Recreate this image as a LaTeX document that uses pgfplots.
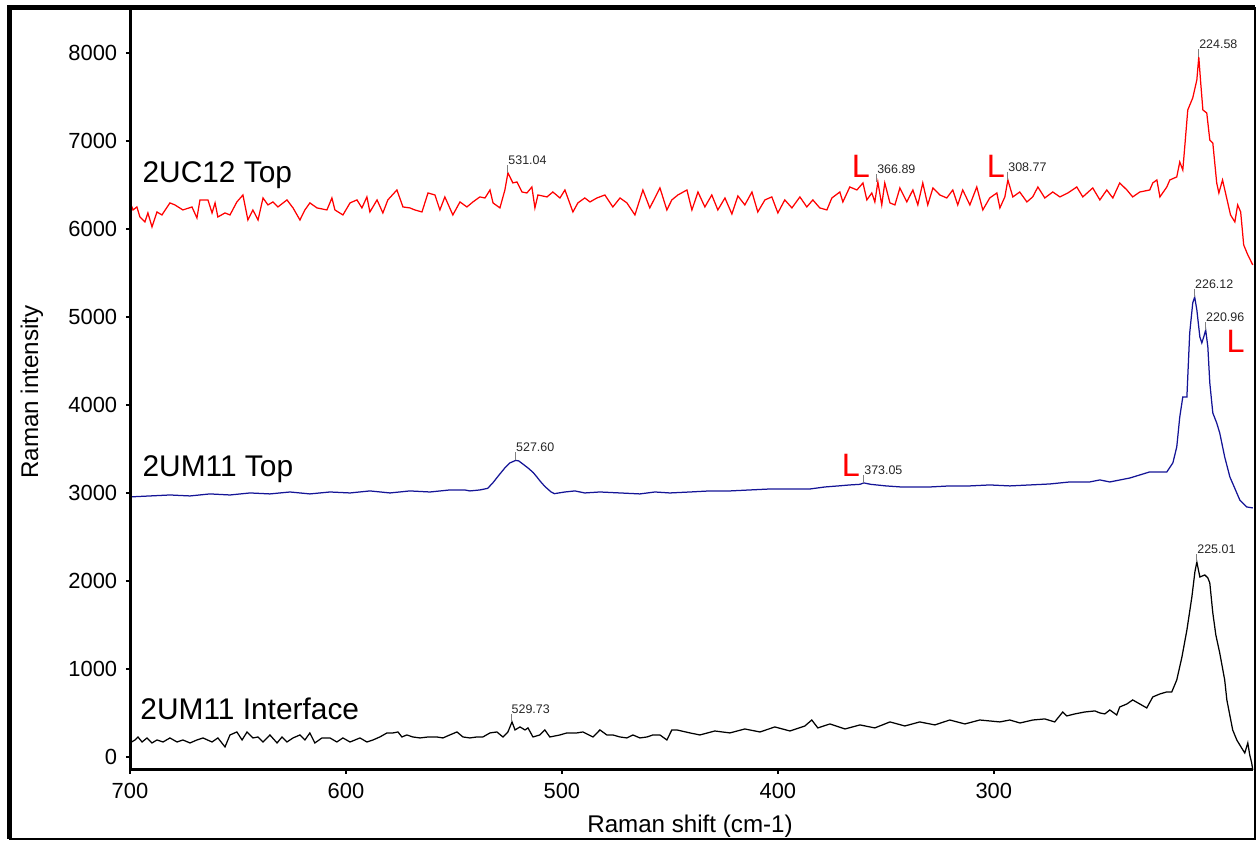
\documentclass[border=0pt]{standalone}
\usepackage{pgfplots}
\pgfplotsset{compat=1.18}
\usepackage{fontspec}
\setmainfont{Liberation Sans}
\definecolor{sred}{RGB}{255,0,0}
\definecolor{sblue}{RGB}{20,20,150}
\newcommand\pk[3]{\draw[gray, line width=0.4bp] (axis cs:#1,#2) -- ++(0pt,3.2bp) node[anchor=south west, inner sep=0pt, text=black!85, font=\fontsize{5}{6}\selectfont] {#3};}
\newcommand\Lm[2]{\node[text=sred, font=\fontsize{13}{14}\selectfont, inner sep=0pt] at (axis cs:#1,#2) {L};}
\begin{document}
\begin{tikzpicture}
\begin{axis}[
 scale only axis, width=449.2bp, height=304.8bp,
 x dir=reverse, xmin=180, xmax=700, ymin=-148, ymax=8511,
 axis line style={draw=none},
 xtick={300,400,500,600,700}, ytick={0,1000,...,8000},
 xtick pos=left, ytick pos=left,
 tick align=outside, major tick length=1.6bp,
 tick style={black, line width=0.6bp},
 /pgf/number format/1000 sep={}, /pgf/number format/assume math mode=true,
 ticklabel style={font=\fontsize{8.8}{10}\selectfont},
 clip=false,
]
\coordinate (BL) at (axis cs:700,-148);
\coordinate (TR) at (axis cs:180,8511);
% 2UC12 Top
\addplot[sred, line width=0.5bp] coordinates {
(700,6307)(698.6,6216)(696.8,6250)(695.4,6136)(693.1,6080)(691.7,6182)(689.8,6023)(687.5,6193)(685.2,6159)(681.5,6296)
(679.2,6273)(675.5,6216)(671.3,6250)(669.0,6125)(667.6,6330)(663.9,6330)(662.0,6182)(660.6,6296)(659.3,6136)(656.0,6182)
(653.7,6159)(650.5,6307)(647.7,6386)(645.4,6102)(643.1,6216)(640.7,6102)(638.4,6352)(636.1,6273)(633.8,6307)(631.5,6250)
(627.3,6330)(624.5,6239)(621.3,6102)(619.0,6216)(616.7,6296)(613.4,6239)(608.8,6216)(606.5,6352)(605.1,6216)(601.4,6159)
(598.1,6296)(594.9,6330)(592.6,6239)(590.3,6364)(588.9,6193)(585.6,6330)(582.9,6182)(580.6,6330)(576.4,6443)(573.6,6250)
(570.4,6239)(568.1,6216)(564.8,6193)(562.0,6409)(558.8,6386)(556.5,6216)(554.2,6364)(550.5,6159)(547.2,6307)(544.0,6250)
(541.2,6307)(538.0,6364)(535.6,6352)(533.3,6443)(531.9,6296)(528.7,6239)(526.4,6443)(525.0,6637)(522.7,6523)(520.8,6534)
(518.5,6420)(516.2,6409)(513.9,6477)(512.5,6239)(511.1,6386)(506.9,6364)(504.2,6420)(500.9,6352)(498.6,6443)(494.9,6193)
(492.6,6296)(489.4,6352)(487.0,6307)(483.8,6352)(480.1,6386)(476.4,6250)(473.1,6352)(469.9,6296)(466.2,6159)(462.5,6443)
(459.3,6239)(454.6,6466)(451.4,6216)(449.1,6330)(446.3,6386)(442.1,6443)(439.8,6216)(437.0,6420)(433.8,6250)(430.6,6386)
(427.8,6216)(424.5,6352)(421.3,6170)(418.5,6375)(415.3,6273)(412.0,6420)(409.3,6193)(406.0,6330)(402.8,6364)(400.0,6182)
(396.8,6330)(393.5,6239)(389.8,6364)(386.6,6250)(383.8,6330)(380.6,6239)(377.3,6216)(375.0,6352)(371.3,6420)(369.9,6307)
(366.7,6477)(363.4,6443)(360.6,6523)(358.8,6330)(356.5,6409)(355.1,6307)(353.7,6534)(351.9,6273)(350.5,6523)(348.1,6296)
(345.8,6273)(343.5,6466)(340.3,6307)(337.5,6443)(335.2,6273)(332.9,6523)(330.6,6273)(328.2,6466)(325.0,6386)(321.8,6352)
(319.0,6443)(316.7,6273)(314.4,6443)(311.1,6273)(307.9,6477)(305.1,6216)(301.9,6352)(298.6,6409)(297.2,6239)(294.9,6364)
(293.5,6557)(291.2,6364)(288.0,6420)(284.7,6307)(282.0,6364)(279.6,6477)(276.4,6352)(272.7,6420)(269.4,6364)(265.7,6409)
(261.6,6477)(258.8,6364)(254.2,6466)(250.9,6330)(247.7,6443)(244.9,6352)(241.7,6523)(238.4,6443)(235.7,6364)(232.4,6420)
(227.8,6443)(226.4,6523)(224.5,6557)(223.1,6364)(219.9,6477)(218.5,6557)(215.3,6591)(213.9,6761)(212.5,6670)(211.6,6932)
(210.2,7352)(207.9,7489)(206.0,7693)(205.1,7955)(204.2,7659)(203.2,7352)(201.4,7318)(200.0,7011)(198.6,6977)(196.8,6523)
(195.8,6409)(194.1,6557)(192.3,6364)(190.4,6159)(188.4,6080)(187.1,6273)(185.7,6193)(184.3,5818)(182.4,5705)(180.1,5591)
};
% 2UM11 Top
\addplot[sblue, line width=0.5bp] coordinates {
(700,2955)(690.7,2966)(681.5,2977)(672.2,2966)(663.0,2989)(653.7,2977)(644.4,3000)(635.2,2989)(625.9,3011)(616.7,2989)
(607.4,3011)(598.1,3000)(588.9,3023)(579.6,3000)(570.4,3023)(561.1,3011)(551.9,3034)(545.0,3034)(542.6,3023)(538.0,3034)
(534.4,3052)(532.0,3114)(529.5,3192)(526.2,3291)(524.1,3341)(521.4,3370)(520.0,3364)(518.2,3331)(515.7,3284)(513.3,3232)
(511.6,3182)(510.0,3132)(507.9,3074)(505.1,3013)(503.5,2992)(498.6,3011)(494.0,3023)(489.4,3000)(482.4,3011)(473.1,3000)
(463.9,2989)(456.9,3011)(450.0,3000)(440.7,3011)(431.5,3023)(422.2,3023)(413.0,3034)(403.7,3045)(394.4,3045)(385.2,3045)
(378.2,3068)(372.0,3080)(366.7,3091)(362.0,3098)(360.2,3114)(357.0,3098)(350.0,3080)(343.0,3068)(338.9,3068)(329.6,3068)
(320.4,3080)(311.1,3080)(301.9,3091)(292.6,3080)(283.3,3091)(274.1,3102)(264.8,3125)(255.6,3125)(250.9,3148)(246.3,3125)
(237.0,3170)(227.8,3239)(219.9,3239)(217.1,3341)(215.3,3523)(213.9,3864)(212.5,4091)(210.6,4091)(210.2,4318)(209.3,4818)
(207.9,5159)(207.0,5227)(206.0,5080)(204.6,4773)(203.7,4705)(202.8,4773)(201.9,4852)(200.9,4659)(200.0,4250)(198.6,3909)
(196.8,3795)(195.4,3682)(193.1,3409)(190.7,3182)(187.5,3000)(186.1,2920)(182.9,2841)(180.1,2830)
};
% 2UM11 Interface
\addplot[black, line width=0.5bp] coordinates {
(700,159)(697.7,193)(696.3,227)(694.4,170)(692.1,216)(689.8,159)(687.5,193)(684.7,170)(681.5,216)(678.2,170)
(675.5,193)(672.2,159)(669.0,193)(666.2,216)(662.0,170)(659.3,216)(656.0,114)(653.7,250)(650.5,284)(648.1,193)
(645.8,284)(643.1,216)(640.7,227)(638.4,170)(635.2,250)(631.9,159)(629.6,227)(627.3,170)(624.5,216)(621.3,250)
(619.0,193)(616.7,273)(614.4,159)(611.1,216)(607.4,216)(604.2,170)(601.4,216)(598.1,170)(593.5,216)(590.3,170)
(587.5,193)(584.3,227)(581.0,273)(578.2,273)(575.9,284)(574.1,227)(571.8,250)(569.0,227)(565.7,216)(562.0,227)
(557.9,227)(555.1,216)(551.9,250)(548.6,284)(545.8,227)(542.6,216)(539.4,227)(536.6,227)(533.3,273)(530.1,284)
(527.3,227)(525.0,284)(523.1,398)(521.7,307)(519.4,341)(517.1,307)(515.7,330)(513.4,227)(510.2,250)(507.9,307)
(505.6,227)(500.9,250)(497.7,273)(493.1,273)(490.3,284)(485.6,227)(482.4,307)(479.2,250)(476.4,250)(473.1,227)
(469.9,216)(467.1,250)(463.9,216)(460.6,227)(457.9,250)(454.6,250)(451.4,193)(449.1,307)(446.8,307)(440.7,273)
(436.1,250)(429.2,295)(422.2,273)(415.3,318)(408.3,284)(401.4,341)(394.4,295)(387.5,352)(384.3,420)(381.5,330)
(375.9,375)(368.9,318)(362.0,364)(355.1,330)(348.1,398)(341.2,352)(334.3,398)(327.3,364)(320.4,420)(313.4,375)
(306.5,420)(297.2,398)(292.6,420)(287.9,386)(281.9,420)(276.4,432)(271.8,398)(268.1,511)(266.2,466)(262.5,489)
(257.9,511)(253.2,523)(250.9,500)(248.6,489)(246.3,534)(243.1,477)(241.7,568)(238.4,602)(235.7,648)(232.4,602)
(229.2,557)(226.4,682)(223.1,716)(219.9,739)(217.6,739)(215.3,875)(212.9,1136)(210.6,1443)(208.3,1818)(206.9,2102)
(206.0,2216)(204.6,2045)(202.3,2068)(200.9,2034)(200.0,1977)(198.6,1636)(197.2,1386)(195.4,1182)(193.1,875)(192.1,648)
(189.4,307)(187.5,193)(186.1,136)(184.7,80)(183.8,45)(182.4,159)(181.5,23)(180.6,-68)(180.1,-148)
};
% peak labels
\pk{205.1}{7955}{224.58}
\pk{525.0}{6637}{531.04}
\pk{354.2}{6530}{366.89}
\pk{293.5}{6557}{308.77}
\pk{207.0}{5227}{226.12}
\pk{201.9}{4852}{220.96}
\pk{521.4}{3370}{527.60}
\pk{360.2}{3114}{373.05}
\pk{206.0}{2216}{225.01}
\pk{523.5}{398}{529.73}
% L markers
\Lm{361.6}{6716}
\Lm{299.1}{6716}
\Lm{366.2}{3318}
\Lm{188.0}{4727}
% series names
\node[anchor=base west, inner sep=0pt, font=\fontsize{12}{14}\selectfont] at (axis cs:694.4,6523) {2UC12 Top};
\node[anchor=base west, inner sep=0pt, font=\fontsize{12}{14}\selectfont] at (axis cs:694.4,3182) {2UM11 Top};
\node[anchor=base west, inner sep=0pt, font=\fontsize{12}{14}\selectfont] at (axis cs:695.4,420) {2UM11 Interface};
\end{axis}
\draw[line width=1.2bp] (BL |- TR) -- (BL) -- (TR |- BL);
\node[font=\fontsize{9.7}{11}\selectfont] at ([shift={(224bp,-22.4bp)}]BL) {Raman shift (cm-1)};
\node[rotate=90, font=\fontsize{9.7}{11}\selectfont] at ([shift={(-39.2bp,151.2bp)}]BL) {Raman intensity};
\coordinate (FBL) at ([shift={(-48.2bp,-27.6bp)}]BL);
\coordinate (FTR) at ([shift={(0.8bp,0.2bp)}]TR);
\draw[line width=1.8bp] (FBL) -- (FBL |- FTR) -- (FTR);
\draw[line width=0.8bp] (FTR) -- (FTR |- FBL) -- (FBL);
\pgfresetboundingbox
\path[use as bounding box] ([shift={(-52bp,-28.4bp)}]BL) rectangle ([shift={(1.6bp,3.2bp)}]TR);
\end{tikzpicture}
\end{document}
